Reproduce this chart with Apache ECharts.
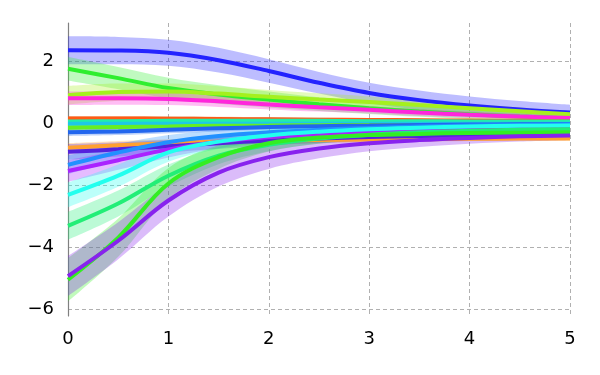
<!DOCTYPE html>
<html>
<head>
<meta charset="utf-8">
<script src="https://cdn.jsdelivr.net/npm/echarts@6/dist/echarts.min.js"></script>
<style>
  html, body { margin: 0; padding: 0; background: #fff; }
  #chart { width: 600px; height: 375px; }
</style>
</head>
<body>
<div id="chart"></div>
<script>
// x positions shared by every curve (labels only on whole numbers)
var xs = ['0', '0.5', '1', '1.5', '2', '2.5', '3', '3.5', '4', '4.5', '5'];
var yTicks = [-6, -4, -2, 0, 2];

// mean curves
var blueMean    = [2.35, 2.34, 2.27, 2.03, 1.68, 1.30, 0.97, 0.74, 0.57, 0.44, 0.34];
var greenMean   = [1.75, 1.45, 1.13, 0.92, 0.76, 0.61, 0.48, 0.37, 0.28, 0.21, 0.15];
var limeMean    = [0.90, 1.00, 1.02, 0.95, 0.85, 0.76, 0.68, 0.58, 0.48, 0.38, 0.28];
var magentaMean = [0.80, 0.80, 0.78, 0.70, 0.60, 0.51, 0.43, 0.34, 0.27, 0.21, 0.16];
var redMean     = [0.15, 0.15, 0.14, 0.13, 0.12, 0.11, 0.10, 0.09, 0.08, 0.07, 0.06];
var tealMean    = [0.05, 0.06, 0.07, 0.07, 0.07, 0.07, 0.06, 0.06, 0.05, 0.05, 0.05];
var aquaMean    = [-0.02, -0.02, -0.02, -0.02, -0.02, -0.02, -0.02, -0.02, -0.02, -0.02, -0.02];
var chartMean   = [-0.15, -0.13, -0.11, -0.09, -0.08, -0.07, -0.06, -0.06, -0.06, -0.06, -0.06];
var royalMean   = [-0.30, -0.27, -0.22, -0.17, -0.13, -0.10, -0.08, -0.06, -0.05, -0.04, -0.03];
var orangeMean  = [-0.80, -0.72, -0.65, -0.60, -0.57, -0.55, -0.53, -0.52, -0.51, -0.50, -0.50];
var indigoMean  = [-0.93, -0.85, -0.75, -0.65, -0.57, -0.50, -0.45, -0.42, -0.40, -0.38, -0.37];
var dodgerMean  = [-1.35, -0.95, -0.62, -0.42, -0.30, -0.22, -0.16, -0.11, -0.08, -0.06, -0.04];
var purpleMean  = [-1.55, -1.20, -0.85, -0.60, -0.45, -0.35, -0.28, -0.24, -0.21, -0.19, -0.18];
var cyanMean    = [-2.32, -1.70, -0.95, -0.60, -0.40, -0.28, -0.20, -0.15, -0.11, -0.09, -0.08];
var springMean  = [-3.32, -2.60, -1.70, -1.05, -0.70, -0.50, -0.38, -0.30, -0.25, -0.22, -0.20];
var brightMean  = [-5.06, -3.70, -1.95, -1.10, -0.65, -0.47, -0.39, -0.35, -0.32, -0.31, -0.30];
var violetMean  = [-4.94, -3.80, -2.50, -1.60, -1.10, -0.82, -0.65, -0.55, -0.48, -0.43, -0.40];

// band half widths
var blueBand    = [0.45, 0.44, 0.42, 0.40, 0.38, 0.35, 0.33, 0.31, 0.29, 0.27, 0.25];
var greenBand   = [0.38, 0.36, 0.33, 0.30, 0.26, 0.22, 0.19, 0.17, 0.15, 0.13, 0.12];
var limeBand    = [0.30, 0.28, 0.26, 0.24, 0.22, 0.20, 0.18, 0.16, 0.14, 0.12, 0.10];
var magentaBand = [0.22, 0.21, 0.20, 0.18, 0.16, 0.14, 0.12, 0.11, 0.10, 0.09, 0.08];
var redBand     = [0.08, 0.08, 0.08, 0.07, 0.07, 0.06, 0.06, 0.06, 0.05, 0.05, 0.05];
var tealBand    = [0.15, 0.14, 0.13, 0.12, 0.11, 0.10, 0.09, 0.08, 0.07, 0.07, 0.06];
var aquaBand    = [0.10, 0.10, 0.09, 0.09, 0.08, 0.08, 0.07, 0.07, 0.06, 0.06, 0.06];
var chartBand   = [0.10, 0.10, 0.09, 0.09, 0.08, 0.08, 0.07, 0.07, 0.06, 0.06, 0.06];
var royalBand   = [0.12, 0.12, 0.11, 0.10, 0.09, 0.08, 0.08, 0.07, 0.07, 0.06, 0.06];
var orangeBand  = [0.15, 0.14, 0.13, 0.12, 0.11, 0.10, 0.09, 0.08, 0.07, 0.07, 0.06];
var indigoBand  = [0.25, 0.23, 0.20, 0.18, 0.16, 0.14, 0.12, 0.11, 0.10, 0.09, 0.08];
var dodgerBand  = [0.30, 0.27, 0.23, 0.19, 0.16, 0.13, 0.11, 0.10, 0.09, 0.08, 0.07];
var purpleBand  = [0.35, 0.31, 0.26, 0.21, 0.17, 0.14, 0.12, 0.10, 0.09, 0.08, 0.07];
var cyanBand    = [0.40, 0.36, 0.30, 0.24, 0.19, 0.15, 0.12, 0.10, 0.09, 0.08, 0.07];
var springBand  = [0.45, 0.42, 0.36, 0.28, 0.21, 0.16, 0.13, 0.11, 0.10, 0.09, 0.08];
var brightBand  = [0.70, 0.62, 0.50, 0.38, 0.27, 0.20, 0.15, 0.12, 0.10, 0.09, 0.08];
var violetBand  = [0.65, 0.60, 0.52, 0.45, 0.38, 0.32, 0.26, 0.22, 0.19, 0.17, 0.15];

var curves = [
  { name: 'blue',    color: '#2323ff', mean: blueMean,    band: blueBand },
  { name: 'green',   color: '#2fee2f', mean: greenMean,   band: greenBand },
  { name: 'lime',    color: '#a4f01e', mean: limeMean,    band: limeBand },
  { name: 'magenta', color: '#ff26dc', mean: magentaMean, band: magentaBand },
  { name: 'red',     color: '#ff5a14', mean: redMean,     band: redBand },
  { name: 'teal',    color: '#22eeaa', mean: tealMean,    band: tealBand },
  { name: 'aqua',    color: '#1ec8e6', mean: aquaMean,    band: aquaBand },
  { name: 'chart',   color: '#66ee22', mean: chartMean,   band: chartBand },
  { name: 'royal',   color: '#2266ee', mean: royalMean,   band: royalBand },
  { name: 'orange',  color: '#ffa030', mean: orangeMean,  band: orangeBand },
  { name: 'indigo',  color: '#5522dd', mean: indigoMean,  band: indigoBand },
  { name: 'dodger',  color: '#2290ff', mean: dodgerMean,  band: dodgerBand },
  { name: 'purple',  color: '#aa22ff', mean: purpleMean,  band: purpleBand },
  { name: 'cyan',    color: '#22ffee', mean: cyanMean,    band: cyanBand },
  { name: 'spring',  color: '#22ee77', mean: springMean,  band: springBand },
  { name: 'bright',  color: '#33ee22', mean: brightMean,  band: brightBand },
  { name: 'violet',  color: '#8822ee', mean: violetMean,  band: violetBand }
];

var series = [];
// bands first (stacked: lower edge + width)
curves.forEach(function(c, k) {
  var lower = c.mean.map(function(m, i) { return m - c.band[i]; });
  var width = c.band.map(function(b) { return 2 * b; });
  series.push({
    type: 'line', stack: 'band' + k, stackStrategy: 'all', data: lower, smooth: 0.35,
    symbol: 'none', silent: true, lineStyle: { opacity: 0 }, z: 1
  });
  series.push({
    type: 'line', stack: 'band' + k, stackStrategy: 'all', data: width, smooth: 0.35,
    symbol: 'none', silent: true, lineStyle: { opacity: 0 },
    areaStyle: { color: c.color, opacity: 0.3 }, z: 1
  });
});
// mean lines on top
curves.forEach(function(c) {
  series.push({
    type: 'line', name: c.name, data: c.mean, smooth: 0.35,
    symbol: 'none', lineStyle: { color: c.color, width: 4 }, z: 3
  });
});

var minus = function(v) { return String(v).replace('-', '\u2212'); };

var chart = echarts.init(document.getElementById('chart'));
chart.setOption({
  animation: false,
  backgroundColor: '#fff',
  grid: { left: 68, right: 30, top: 23, bottom: 59 },
  xAxis: {
    type: 'category', data: xs, boundaryGap: false,
    axisLine: { show: false },
    axisTick: { show: false },
    axisLabel: { interval: 1, fontFamily: 'DejaVu Sans', fontSize: 18, color: '#000', margin: 14 },
    splitLine: { show: true, interval: 1, lineStyle: { color: '#b0b0b0', type: [4, 3], width: 1 } }
  },
  yAxis: {
    type: 'value', min: -6.23, max: 3.23,
    axisLine: { show: true, lineStyle: { color: '#808080', width: 1.2 } },
    axisTick: { show: false, customValues: yTicks },
    axisLabel: {
      customValues: yTicks, formatter: minus,
      fontFamily: 'DejaVu Sans', fontSize: 18, color: '#000', margin: 14
    },
    splitLine: { show: true, lineStyle: { color: '#b0b0b0', type: [4, 3], width: 1 } }
  },
  series: series
});
</script>
</body>
</html>
